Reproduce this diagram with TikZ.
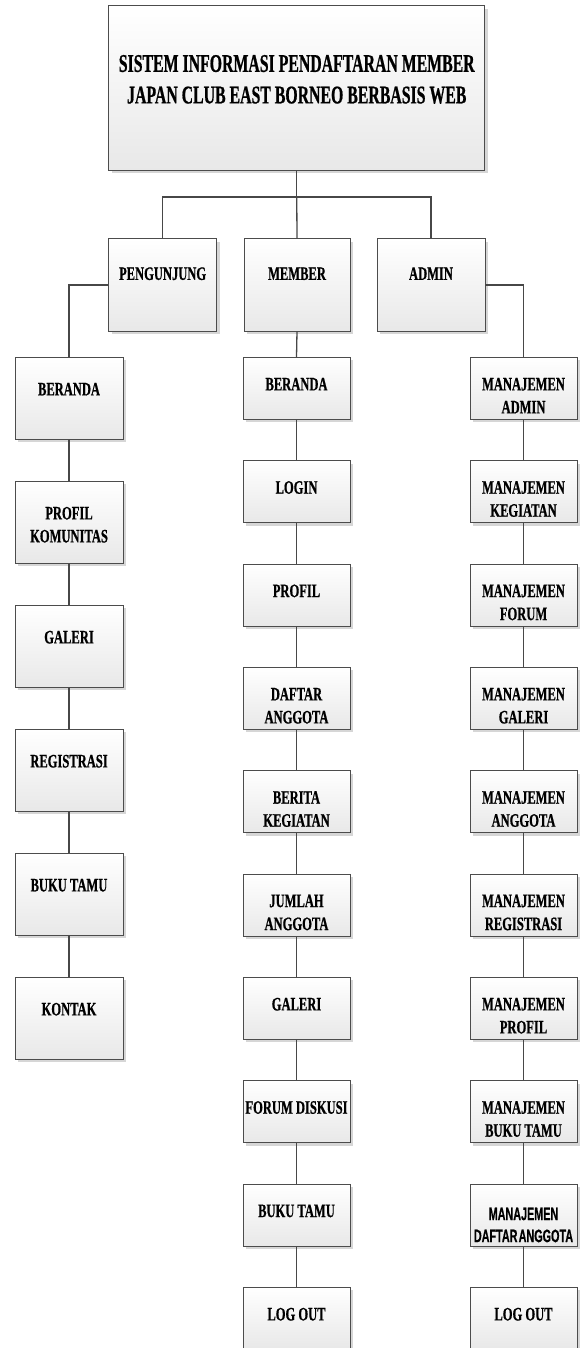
\documentclass[tikz,border=0pt]{standalone}
\usepackage{fontspec}
\setmainfont{Liberation Serif}[FakeStretch=0.66, BoldFeatures={FakeBold=0.7}]
\newfontfamily\judulfont{Liberation Serif}[FakeStretch=0.62, BoldFeatures={FakeBold=0.7}]
\newfontfamily\sempit{Liberation Sans}[FakeStretch=0.6, BoldFeatures={FakeBold=0.6}]
\usetikzlibrary{shadows}

\tikzset{
  kotak/.style={draw=black!70, line width=0.8pt, top color=white, bottom color=black!9,
    drop shadow={shadow xshift=3pt, shadow yshift=-3pt, fill=black!16, opacity=1},
    align=center, inner sep=0pt, anchor=north,
    font=\fontsize{19}{23}\selectfont\bfseries},
  judul/.style={kotak, minimum width=376pt, text height=97.5pt, text depth=67pt,
    font=\fontsize{25.5}{31.5}\judulfont\bfseries},
  aktor/.style={kotak, minimum width=108pt, text height=41pt, text depth=51pt},
  kiri/.style={kotak, minimum width=108pt, text height=38pt, text depth=44pt},
  kiridua/.style={kiri, text height=61pt, text depth=21pt},
  menu/.style={kotak, minimum width=107pt, text height=33pt, text depth=29pt},
  menudua/.style={menu, text height=56pt, text depth=6pt},
  garis/.style={draw=black!72, line width=1.3pt},
}

\begin{document}
\begin{tikzpicture}[x=1pt,y=-1pt]
\useasboundingbox (0,0) rectangle (579,1348);

% Judul sistem
\node[judul] (judul) at (296.75,5.5) {SISTEM INFORMASI PENDAFTARAN MEMBER\\JAPAN CLUB EAST BORNEO BERBASIS WEB};
\coordinate (cabang) at (296.75,197);

% Pengguna
\node[aktor] (peng) at (162.6,238.5) {PENGUNJUNG};
\node[aktor, minimum width=106pt] (member) at (297,238.5) {MEMBER};
\node[aktor] (admin) at (431,238.5) {ADMIN};

% Menu pengunjung
\node[kiri] (pberanda) at (69,357) {BERANDA};
\node[kiridua] (pprofil) at (69,481) {PROFIL\\KOMUNITAS};
\node[kiri] (pgaleri) at (69,605) {GALERI};
\node[kiri] (pregistrasi) at (69,729) {REGISTRASI};
\node[kiri] (pbukutamu) at (69,853) {BUKU TAMU};
\node[kiri] (pkontak) at (69,977) {KONTAK};

% Menu member
\node[menu] (mberanda) at (296.5,357) {BERANDA};
\node[menu] (mlogin) at (296.5,460.3) {LOGIN};
\node[menu] (mprofil) at (296.5,563.7) {PROFIL};
\node[menudua] (mdaftar) at (296.5,667) {DAFTAR\\ANGGOTA};
\node[menudua] (mberita) at (296.5,770.3) {BERITA\\KEGIATAN};
\node[menudua] (mjumlah) at (296.5,873.7) {JUMLAH\\ANGGOTA};
\node[menu] (mgaleri) at (296.5,977) {GALERI};
\node[menu] (mforum) at (296.5,1080.3) {FORUM DISKUSI};
\node[menu] (mbukutamu) at (296.5,1183.7) {BUKU TAMU};
\node[menu] (mlogout) at (296.5,1287) {LOG OUT};

% Menu admin
\node[menudua] (aadmin) at (523.5,357) {MANAJEMEN\\ADMIN};
\node[menudua] (akegiatan) at (523.5,460.3) {MANAJEMEN\\KEGIATAN};
\node[menudua] (aforum) at (523.5,563.7) {MANAJEMEN\\FORUM};
\node[menudua] (agaleri) at (523.5,667) {MANAJEMEN\\GALERI};
\node[menudua] (aanggota) at (523.5,770.3) {MANAJEMEN\\ANGGOTA};
\node[menudua] (aregistrasi) at (523.5,873.7) {MANAJEMEN\\REGISTRASI};
\node[menudua] (aprofil) at (523.5,977) {MANAJEMEN\\PROFIL};
\node[menudua] (abukutamu) at (523.5,1080.3) {MANAJEMEN\\BUKU TAMU};
\node[menudua, text height=58pt, text depth=4pt, font=\fontsize{18}{22}\sempit\bfseries] (adaftar) at (523.5,1183.7) {MANAJEMEN\\DAFTAR\hspace{-0.1em} ANGGOTA};
\node[menu] (alogout) at (523.5,1287) {LOG OUT};

% Garis penghubung
\draw[garis] (judul.south) -- (cabang);
\draw[garis] (cabang) -| (peng.north);
\draw[garis] (cabang) -- (member.north);
\draw[garis] (cabang) -| (admin.north);
\draw[garis] (peng.west) -| (pberanda.north);
\draw[garis] (member.south) -- (mberanda.north);
\draw[garis] (admin.east) -| (aadmin.north);

\draw[garis] (pberanda) -- (pprofil);
\draw[garis] (pprofil) -- (pgaleri);
\draw[garis] (pgaleri) -- (pregistrasi);
\draw[garis] (pregistrasi) -- (pbukutamu);
\draw[garis] (pbukutamu) -- (pkontak);

\draw[garis] (mberanda) -- (mlogin);
\draw[garis] (mlogin) -- (mprofil);
\draw[garis] (mprofil) -- (mdaftar);
\draw[garis] (mdaftar) -- (mberita);
\draw[garis] (mberita) -- (mjumlah);
\draw[garis] (mjumlah) -- (mgaleri);
\draw[garis] (mgaleri) -- (mforum);
\draw[garis] (mforum) -- (mbukutamu);
\draw[garis] (mbukutamu) -- (mlogout);

\draw[garis] (aadmin) -- (akegiatan);
\draw[garis] (akegiatan) -- (aforum);
\draw[garis] (aforum) -- (agaleri);
\draw[garis] (agaleri) -- (aanggota);
\draw[garis] (aanggota) -- (aregistrasi);
\draw[garis] (aregistrasi) -- (aprofil);
\draw[garis] (aprofil) -- (abukutamu);
\draw[garis] (abukutamu) -- (adaftar);
\draw[garis] (adaftar) -- (alogout);
\end{tikzpicture}
\end{document}
